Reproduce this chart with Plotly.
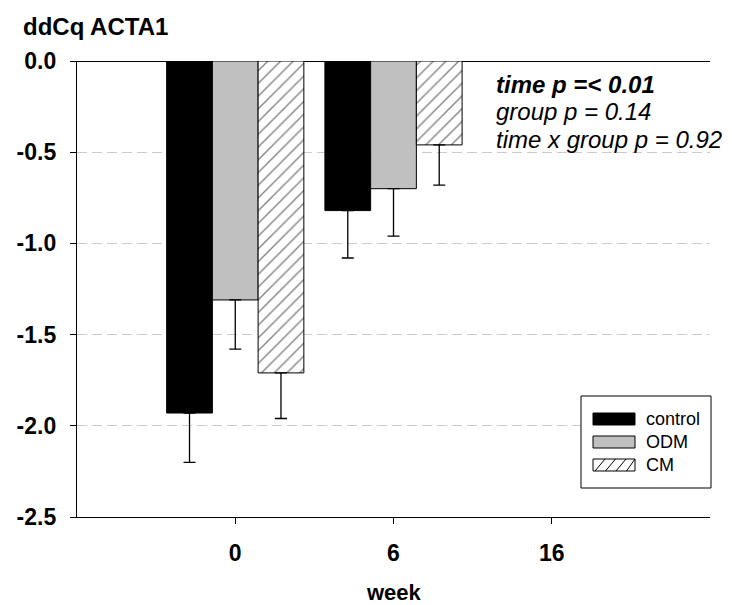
import plotly.graph_objects as go

# Weeks on the x axis (week 16 has no measurements yet)
weeks = ["0", "6", "16"]
groups = ["control", "ODM", "CM"]

# Mean ddCq ACTA1 per group and week, with the SE shown as a downward whisker
control_mean = [-1.93, -0.82, None]
control_err = [0.27, 0.26, None]
odm_mean = [-1.31, -0.70, None]
odm_err = [0.27, 0.26, None]
cm_mean = [-1.71, -0.46, None]
cm_err = [0.25, 0.22, None]

# y axis ticks, labelled with a plain hyphen minus
y_ticks = [0.0, -0.5, -1.0, -1.5, -2.0, -2.5]

stats_lines = [
    "<b><i>time p =&lt; 0.01</i></b>",
    "<i>group p = 0.14</i>",
    "<i>time x group p = 0.92</i>",
]

FONT = "Arial, Liberation Sans, sans-serif"
W, H = 732, 605
ML, MR, MT, MB = 77, 22, 61, 88
PW, PH = W - ML - MR, H - MT - MB

x_pos = list(range(len(weeks)))


def px_x(px):
    return (px - ML) / PW


def px_y(py):
    return (H - MB - py) / PH


def err_bar(err):
    return dict(type="data", symmetric=False,
                array=[0 if e is not None else None for e in err],
                arrayminus=err, color="black", thickness=1.3, width=6)


styles = {
    "control": dict(color="black", line=dict(color="black", width=1)),
    "ODM": dict(color="#c0c0c0", line=dict(color="black", width=1)),
    "CM": dict(color="white", line=dict(color="black", width=1),
               pattern=dict(shape="/", fgcolor="black", bgcolor="white",
                            size=9, solidity=0.15)),
}
series = {
    "control": (control_mean, control_err),
    "ODM": (odm_mean, odm_err),
    "CM": (cm_mean, cm_err),
}

fig = go.Figure()
for g in groups:
    mean, err = series[g]
    fig.add_trace(go.Bar(
        x=x_pos, y=mean, name=g, marker=styles[g],
        error_y=err_bar(err), showlegend=False,
    ))

# Legend box drawn by hand so the swatches are wide like the figure style
shapes = []
box = (581, 396, 711, 488)
shapes.append(dict(type="rect", xref="paper", yref="paper",
                   x0=px_x(box[0]), x1=px_x(box[2]),
                   y0=px_y(box[3]), y1=px_y(box[1]),
                   line=dict(color="black", width=1), fillcolor="white",
                   layer="above"))
annotations = []
sw_x0, sw_x1 = 593, 635
row_y = [419, 442, 465]
sw_fill = ["black", "#c0c0c0", "white"]
for g, cy, fc in zip(groups, row_y, sw_fill):
    shapes.append(dict(type="rect", xref="paper", yref="paper",
                       x0=px_x(sw_x0), x1=px_x(sw_x1),
                       y0=px_y(cy + 6), y1=px_y(cy - 6),
                       line=dict(color="black", width=1), fillcolor=fc,
                       layer="above"))
    annotations.append(dict(text=g, xref="paper", yref="paper",
                            x=px_x(644), y=px_y(cy), xanchor="left",
                            yanchor="middle", showarrow=False,
                            font=dict(family=FONT, size=18, color="black")))
# hatch strokes in the CM swatch
cy = row_y[2]
for k in range(4):
    xa = sw_x0 + 2 + k * 10.5
    shapes.append(dict(type="line", xref="paper", yref="paper",
                       x0=px_x(xa), y0=px_y(cy + 6),
                       x1=px_x(min(xa + 10, sw_x1)), y1=px_y(cy - 6),
                       line=dict(color="black", width=1), layer="above"))

# Statistics text block
for i, t in enumerate(stats_lines):
    annotations.append(dict(text=t, xref="paper", yref="paper",
                            x=px_x(494), y=px_y(84 + i * 27.5),
                            xanchor="left", yanchor="middle", showarrow=False,
                            font=dict(family=FONT, size=24, color="black")))

# x axis title
annotations.append(dict(text="<b>week</b>", xref="paper", yref="paper",
                        x=0.5, y=px_y(592), xanchor="center", yanchor="middle",
                        showarrow=False,
                        font=dict(family=FONT, size=22, color="black")))

fig.update_layout(
    width=W, height=H,
    margin=dict(l=ML, r=MR, t=MT, b=MB, pad=0),
    paper_bgcolor="white", plot_bgcolor="white",
    barmode="group", bargap=0.133, bargroupgap=0,
    title=dict(text="<b>ddCq ACTA1</b>", x=23 / W, xanchor="left",
               y=1 - 27 / H, yanchor="middle",
               font=dict(family=FONT, size=24, color="black")),
    shapes=shapes, annotations=annotations,
    font=dict(family=FONT, color="black"),
)
fig.update_xaxes(
    range=[-1, 3.0], tickmode="array", tickvals=x_pos, ticktext=weeks,
    showgrid=False, zeroline=False, showline=True, linecolor="black",
    linewidth=1.3, ticks="outside", ticklen=6, tickcolor="black",
    tickwidth=1.3, ticklabelstandoff=9,
    tickfont=dict(family=FONT, size=23, color="black", weight="bold"),
)
fig.update_yaxes(
    range=[-2.5, 0], tickmode="array", tickvals=y_ticks,
    ticktext=[f"{v:.1f}" for v in y_ticks],
    showgrid=True, gridcolor="#cbcbcb", gridwidth=1, griddash="10px,5px",
    zeroline=True, zerolinecolor="black", zerolinewidth=1.3,
    showline=True, linecolor="black", linewidth=1.3,
    ticks="outside", ticklen=6, tickcolor="black", tickwidth=1.3,
    ticklabelstandoff=9,
    tickfont=dict(family=FONT, size=23, color="black", weight="bold"),
)

fig.write_html("out.html")
